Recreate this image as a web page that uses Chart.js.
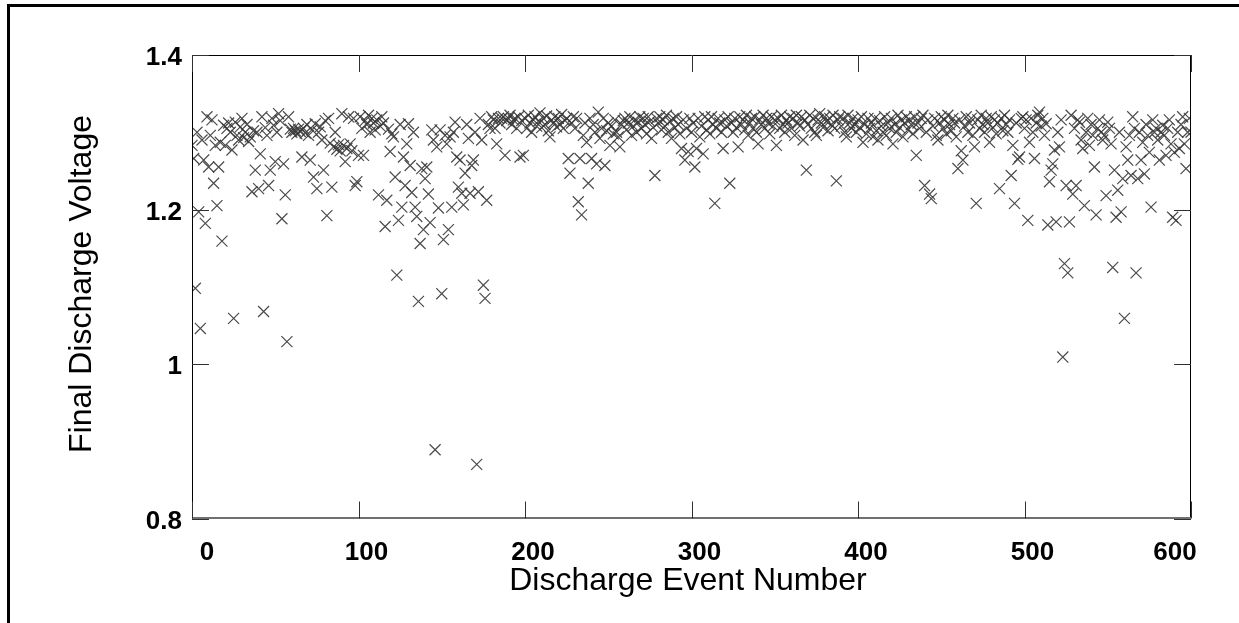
<!DOCTYPE html>
<html>
<head>
<meta charset="utf-8">
<script src="https://cdn.jsdelivr.net/npm/chart.js@4/dist/chart.umd.min.js"></script>
<style>
  html, body { margin: 0; padding: 0; background: #ffffff; }
  #wrap { width: 1239px; height: 623px; position: relative; }
</style>
</head>
<body>
<div id="wrap"><canvas id="c" width="1239" height="623"></canvas></div>
<script>
// ---------------- DATA ----------------
const xTitle = 'Discharge Event Number';
const yTitle = 'Final Discharge Voltage';
const xTickValues = [0, 100, 200, 300, 400, 500, 600];
const xTickLabels = ['0', '100', '200', '300', '400', '500', '600'];
const yTickValues = [0.8, 1.0, 1.2, 1.4];
const yTickLabels = ['0.8', '1', '1.2', '1.4'];

// Final discharge voltage for event numbers 0..99
const voltage000 = [
  1.283, 1.266, 1.098, 1.300, 1.197, 1.046, 1.290, 1.264, 1.182, 1.320,
  1.255, 1.296, 1.316, 1.234, 1.283, 1.205, 1.255, 1.287, 1.159, 1.309,
  1.283, 1.305, 1.312, 1.300, 1.277, 1.059, 1.313, 1.296, 1.290, 1.307,
  1.318, 1.293, 1.300, 1.310, 1.288, 1.294, 1.223, 1.302, 1.251, 1.300,
  1.227, 1.272, 1.320, 1.068, 1.306, 1.296, 1.231, 1.251, 1.318, 1.309,
  1.262, 1.300, 1.324, 1.315, 1.188, 1.259, 1.219, 1.029, 1.320, 1.304,
  1.300, 1.305, 1.302, 1.298, 1.304, 1.301, 1.268, 1.305, 1.299, 1.310,
  1.296, 1.264, 1.303, 1.242, 1.311, 1.227, 1.300, 1.307, 1.290, 1.251,
  1.315, 1.192, 1.318, 1.286, 1.229, 1.281, 1.300, 1.278, 1.284, 1.276,
  1.324, 1.283, 1.262, 1.279, 1.320, 1.285, 1.276, 1.318, 1.231, 1.236
];
// events 100..199
const voltage100 = [
  1.270, 1.320, 1.305, 1.270, 1.315, 1.310, 1.322, 1.300, 1.318, 1.312,
  1.303, 1.316, 1.219, 1.308, 1.320, 1.312, 1.178, 1.212, 1.304, 1.275,
  1.298, 1.294, 1.242, 1.115, 1.186, 1.310, 1.203, 1.268, 1.231, 1.285,
  1.311, 1.257, 1.222, 1.300, 1.203, 1.191, 1.081, 1.156, 1.253, 1.174,
  1.240, 1.255, 1.220, 1.183, 1.303, 1.290, 0.889, 1.281, 1.202, 1.303,
  1.091, 1.161, 1.296, 1.285, 1.174, 1.294, 1.203, 1.300, 1.313, 1.268,
  1.229, 1.264, 1.221, 1.206, 1.247, 1.310, 1.292, 1.221, 1.257, 1.264,
  1.300, 0.870, 1.223, 1.318, 1.290, 1.102, 1.085, 1.212, 1.310, 1.305,
  1.320, 1.316, 1.305, 1.285, 1.318, 1.312, 1.318, 1.320, 1.270, 1.315,
  1.318, 1.322, 1.310, 1.316, 1.318, 1.305, 1.320, 1.268, 1.315, 1.270
];
// events 200..299
const voltage200 = [
  1.318, 1.305, 1.322, 1.312, 1.300, 1.316, 1.320, 1.308, 1.314, 1.325,
  1.306, 1.318, 1.310, 1.321, 1.302, 1.294, 1.316, 1.312, 1.320, 1.307,
  1.318, 1.310, 1.323, 1.305, 1.315, 1.318, 1.266, 1.247, 1.312, 1.320,
  1.305, 1.318, 1.210, 1.266, 1.193, 1.296, 1.312, 1.287, 1.234, 1.318,
  1.266, 1.310, 1.300, 1.259, 1.326, 1.292, 1.305, 1.318, 1.257, 1.302,
  1.312, 1.283, 1.308, 1.298, 1.316, 1.300, 1.294, 1.281, 1.310, 1.315,
  1.318, 1.303, 1.312, 1.320, 1.296, 1.308, 1.316, 1.300, 1.313, 1.320,
  1.305, 1.318, 1.310, 1.298, 1.320, 1.314, 1.292, 1.306, 1.244, 1.318,
  1.312, 1.320, 1.303, 1.316, 1.308, 1.322, 1.300, 1.314, 1.292, 1.318,
  1.306, 1.320, 1.310, 1.298, 1.279, 1.316, 1.264, 1.305, 1.275, 1.318
];
// events 300..399
const voltage300 = [
  1.300, 1.312, 1.255, 1.279, 1.318, 1.294, 1.308, 1.272, 1.320, 1.303,
  1.316, 1.298, 1.320, 1.310, 1.208, 1.305, 1.318, 1.312, 1.300, 1.279,
  1.316, 1.308, 1.320, 1.234, 1.312, 1.300, 1.318, 1.306, 1.281, 1.320,
  1.310, 1.316, 1.303, 1.322, 1.296, 1.312, 1.318, 1.305, 1.320, 1.300,
  1.285, 1.316, 1.310, 1.322, 1.305, 1.318, 1.312, 1.298, 1.320, 1.308,
  1.316, 1.283, 1.318, 1.305, 1.322, 1.310, 1.300, 1.316, 1.312, 1.320,
  1.305, 1.318, 1.296, 1.322, 1.312, 1.308, 1.320, 1.290, 1.316, 1.251,
  1.310, 1.322, 1.305, 1.318, 1.300, 1.296, 1.316, 1.324, 1.312, 1.306,
  1.320, 1.314, 1.302, 1.318, 1.310, 1.322, 1.305, 1.237, 1.316, 1.320,
  1.308, 1.318, 1.300, 1.294, 1.322, 1.312, 1.305, 1.318, 1.310, 1.300
];
// events 400..499
const voltage400 = [
  1.316, 1.306, 1.320, 1.287, 1.310, 1.298, 1.318, 1.305, 1.312, 1.294,
  1.318, 1.302, 1.290, 1.315, 1.308, 1.300, 1.320, 1.296, 1.312, 1.305,
  1.318, 1.285, 1.310, 1.300, 1.322, 1.306, 1.316, 1.294, 1.312, 1.320,
  1.303, 1.316, 1.310, 1.298, 1.320, 1.270, 1.312, 1.305, 1.318, 1.322,
  1.231, 1.300, 1.316, 1.220, 1.214, 1.308, 1.318, 1.296, 1.290, 1.312,
  1.320, 1.305, 1.316, 1.298, 1.322, 1.310, 1.302, 1.318, 1.312, 1.294,
  1.253, 1.316, 1.276, 1.264, 1.308, 1.320, 1.300, 1.312, 1.318, 1.296,
  1.281, 1.208, 1.316, 1.305, 1.322, 1.310, 1.300, 1.318, 1.312, 1.287,
  1.320, 1.306, 1.316, 1.298, 1.312, 1.227, 1.318, 1.302, 1.322, 1.310,
  1.300, 1.316, 1.244, 1.283, 1.208, 1.312, 1.265, 1.268, 1.318, 1.320
];
// events 500..600
const voltage500 = [
  1.305, 1.316, 1.186, 1.287, 1.318, 1.300, 1.266, 1.312, 1.322, 1.326,
  1.308, 1.318, 1.296, 1.311, 1.180, 1.236, 1.251, 1.259, 1.277, 1.184,
  1.300, 1.281, 1.316, 1.009, 1.130, 1.231, 1.118, 1.184, 1.322, 1.220,
  1.305, 1.231, 1.316, 1.313, 1.290, 1.279, 1.205, 1.300, 1.318, 1.283,
  1.310, 1.296, 1.255, 1.193, 1.305, 1.316, 1.300, 1.290, 1.296, 1.218,
  1.313, 1.305, 1.285, 1.125, 1.251, 1.190, 1.225, 1.300, 1.197, 1.240,
  1.059, 1.281, 1.264, 1.296, 1.244, 1.320, 1.305, 1.118, 1.240, 1.300,
  1.264, 1.287, 1.246, 1.310, 1.296, 1.274, 1.203, 1.316, 1.300, 1.305,
  1.290, 1.264, 1.300, 1.309, 1.296, 1.270, 1.305, 1.316, 1.285, 1.190,
  1.274, 1.186, 1.300, 1.279, 1.310, 1.320, 1.285, 1.253, 1.300, 1.318,
  1.300
];

// ---------------- CHART ----------------
const allVoltages = [].concat(voltage000, voltage100, voltage200, voltage300, voltage400, voltage500);
const points = allVoltages.map((v, i) => ({ x: i, y: v }));

const FONT = '"Liberation Sans", Arial, Helvetica, sans-serif';

const decorPlugin = {
  id: 'decor',
  beforeDraw(chart) {
    const ctx = chart.ctx;
    ctx.save();
    ctx.fillStyle = '#ffffff';
    ctx.fillRect(0, 0, chart.width, chart.height);
    ctx.restore();
  },
  afterDraw(chart) {
    const ctx = chart.ctx;
    const a = chart.chartArea;
    const xs = chart.scales.x, ys = chart.scales.y;
    ctx.save();
    // outer figure frame (top and left visible)
    ctx.strokeStyle = '#000000';
    ctx.lineWidth = 3;
    ctx.beginPath();
    ctx.moveTo(8.5, chart.height + 2);
    ctx.lineTo(8.5, 5.5);
    ctx.lineTo(chart.width + 2, 5.5);
    ctx.stroke();

    // plot box
    ctx.lineWidth = 1;
    ctx.strokeStyle = '#000000';
    ctx.beginPath();
    ctx.moveTo(a.left + 0.5, a.bottom);
    ctx.lineTo(a.left + 0.5, a.top + 0.5);
    ctx.lineTo(a.right - 0.5, a.top + 0.5);
    ctx.lineTo(a.right - 0.5, a.bottom);
    ctx.stroke();
    ctx.strokeStyle = '#707070';
    ctx.lineWidth = 2;
    ctx.beginPath();
    ctx.moveTo(a.left, a.bottom - 0.5);
    ctx.lineTo(a.right, a.bottom - 0.5);
    ctx.stroke();

    // inward ticks
    const TL = 17;
    ctx.strokeStyle = '#303030';
    ctx.lineWidth = 1;
    ctx.beginPath();
    xTickValues.forEach(v => {
      const px = Math.round(xs.getPixelForValue(v)) + 0.5;
      ctx.moveTo(px, a.bottom); ctx.lineTo(px, a.bottom - TL);
      ctx.moveTo(px, a.top); ctx.lineTo(px, a.top + TL);
    });
    yTickValues.forEach(v => {
      const py = Math.round(ys.getPixelForValue(v)) + 0.5;
      ctx.moveTo(a.left, py); ctx.lineTo(a.left + TL, py);
      ctx.moveTo(a.right, py); ctx.lineTo(a.right - TL, py);
    });
    ctx.stroke();

    // tick labels
    ctx.fillStyle = '#000000';
    ctx.font = 'bold 26px ' + FONT;
    ctx.textAlign = 'right';
    ctx.textBaseline = 'middle';
    yTickValues.forEach((v, i) => {
      const py = ys.getPixelForValue(v);
      ctx.fillText(yTickLabels[i], a.left - 10, py + 3);
    });
    ctx.textAlign = 'center';
    ctx.textBaseline = 'alphabetic';
    const last = xTickValues.length - 1;
    xTickValues.forEach((v, i) => {
      let px = xs.getPixelForValue(v);
      if (i === 0) px += 15; else if (i === last) px -= 16; else px += 8;
      ctx.fillText(xTickLabels[i], px, 560);
    });

    // axis titles
    ctx.font = '32px ' + FONT;
    ctx.textAlign = 'center';
    ctx.textBaseline = 'middle';
    ctx.fillText(xTitle, 688, 581);
    ctx.translate(82, 284);
    ctx.rotate(-Math.PI / 2);
    ctx.fillText(yTitle, 0, 0);
    ctx.restore();
  }
};

new Chart(document.getElementById('c'), {
  type: 'scatter',
  data: {
    datasets: [{
      data: points,
      pointStyle: 'crossRot',
      pointRadius: 7.8,
      pointHoverRadius: 7.8,
      borderColor: 'rgba(55,55,55,0.9)',
      backgroundColor: 'rgba(55,55,55,0.9)',
      pointBorderWidth: 1.2,
      showLine: false
    }]
  },
  plugins: [decorPlugin],
  options: {
    responsive: false,
    animation: false,
    events: [],
    layout: { padding: { left: 192, right: 48, top: 55, bottom: 104.5 } },
    plugins: { legend: { display: false }, tooltip: { enabled: false }, title: { display: false } },
    scales: {
      x: { type: 'linear', min: 0, max: 600, display: false },
      y: { type: 'linear', min: 0.8, max: 1.4, display: false }
    }
  }
});
</script>
</body>
</html>
